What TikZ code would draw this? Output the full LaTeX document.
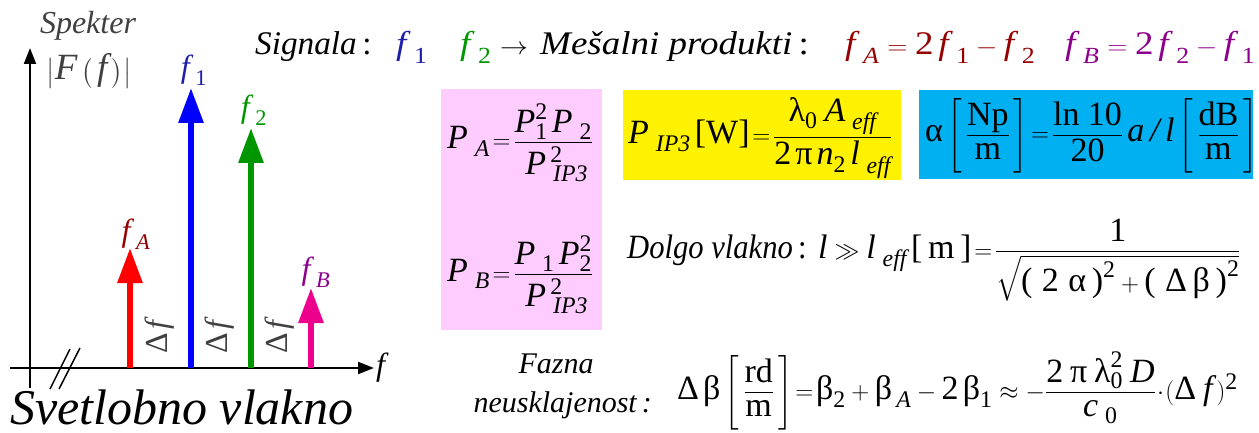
\documentclass[tikz,border=0pt]{standalone}
\usepackage{amsmath}
\usepackage{fontspec}
\setmainfont{Liberation Serif}
\usetikzlibrary{arrows.meta}
\newcommand\I[1]{\text{\itshape #1}}
\newcommand\R[1]{\text{\upshape #1}}
\definecolor{dred}{RGB}{150,0,0}
\definecolor{navy}{RGB}{30,30,170}
\definecolor{grn}{RGB}{0,150,0}
\definecolor{purp}{RGB}{140,0,140}
\definecolor{pinkbg}{RGB}{255,204,255}
\definecolor{cyanbg}{RGB}{0,176,240}
\definecolor{txtgray}{RGB}{64,64,64}
\begin{document}
\begin{tikzpicture}[x=1pt,y=-1pt,
  spk/.style={line width=6pt,-{Triangle[width=24pt,length=35pt]}},
  ax/.style={line width=2pt,-{Triangle[width=12pt,length=16pt]}},
  big/.style={font=\fontsize{34}{40}\selectfont, inner sep=0pt},
  lbl/.style={font=\fontsize{32}{38}\selectfont, inner sep=0pt},
  tl/.style={font=\fontsize{33}{38}\selectfont, inner sep=0pt, anchor=base west, xscale=1.12}]
\useasboundingbox (0,0) rectangle (1259,433);
% background boxes
\fill[pinkbg] (441,89) rectangle (602,330);
\fill[yellow] (623,90) rectangle (901,180);
\fill[cyanbg] (919,90) rectangle (1253,179);
% axes
\coordinate (o1) at (30,388);
\coordinate (yt) at (30,48);
\coordinate (x0) at (10,368);
\coordinate (xt) at (374,368);
\draw[ax] (o1) -- (yt);
\draw[ax] (x0) -- (xt);
\draw[line width=1.5pt] (50,389) -- (70,349) (59,389) -- (80,348);
\node[lbl, anchor=west] (fx) at (376,368) {$\I{f}$};
% spectral lines
\coordinate (ab) at (130,368); \coordinate (at) at (130,248);
\coordinate (b1) at (191,368); \coordinate (t1) at (191,88);
\coordinate (b2) at (251,368); \coordinate (t2) at (251,128);
\coordinate (bb) at (311,368); \coordinate (tb) at (311,288);
\draw[spk, red] (ab) -- (at);
\draw[spk, blue] (b1) -- (t1);
\draw[spk, grn] (b2) -- (t2);
\draw[spk, magenta] (bb) -- (tb);
\node[lbl, dred] (lA) at (136,234) {$\I{f}_{\;\I{A}}$};
\node[lbl, navy] (l1) at (194,70) {$\I{f}_{\;\R{1}}$};
\node[lbl, grn] (l2) at (254,110) {$\I{f}_{\;\R{2}}$};
\node[lbl, purp] (lB) at (316,272) {$\I{f}_{\;\I{B}}$};
\node[lbl, txtgray, rotate=90] (d1) at (160,337) {$\R{Δ}\,\I{f}$};
\node[lbl, txtgray, rotate=90] (d2) at (220,337) {$\R{Δ}\,\I{f}$};
\node[lbl, txtgray, rotate=90] (d3) at (280,337) {$\R{Δ}\,\I{f}$};
\node[font=\fontsize{32}{36}\selectfont\itshape, txtgray, inner sep=0pt, anchor=base] (spek) at (88,34) {Spekter};
\node[font=\fontsize{37}{42}\selectfont, txtgray, inner sep=0pt, anchor=base] (Ff) at (89,80) {$\bigl|\I{F}\,\bigl(\,\I{f}\,\bigr)\bigr|$};
\node[font=\fontsize{50}{56}\selectfont\itshape, inner sep=0pt, anchor=base west] (sv) at (10,424) {Svetlobno vlakno};
% top line pieces
\node[tl, xscale=0.9] (s1) at (255,55) {\I{Signala}\,:};
\node[tl, navy] (s2) at (396,55) {$\I{f}_{\;\R{1}}$};
\node[tl, grn] (s3) at (460,55) {$\I{f}_{\;\R{2}}$};
\node[tl] (s4) at (500,55) {$\rightarrow$};
\node[tl] (s5) at (540,55) {\I{Mešalni produkti}\,:};
\node[tl, dred] (s6) at (845,55) {$\I{f}_{\;\I{A}}=\R{2}\,\I{f}_{\;\R{1}}-\I{f}_{\;\R{2}}$};
\node[tl, purp] (s7) at (1065,55) {$\I{f}_{\;\I{B}}=\R{2}\,\I{f}_{\;\R{2}}-\I{f}_{\;\R{1}}$};
% formulas
\node[big, anchor=base west] (PA) at (447,149)
 {$\I{P}_{\;\I{A}}\!=\!\dfrac{\I{P}_{\R{1}}^{\R{2}}\,\I{P}_{\;\R{2}}}{\;\I{P}_{\;\I{IP3}}^{\,\R{2}}}$};
\node[big, anchor=base west] (PIP) at (628,144)
 {$\I{P}_{\;\I{IP3}}\,\R{[W]}\!=\!\dfrac{\R{λ}_{\R{0}}\;\I{A}_{\;\I{eff}}}{\R{2}\,\R{π}\,\I{n}_{\R{2}}\,\I{l}_{\;\I{eff}}}$};
\node[big, anchor=base west] (al) at (925,142)
 {$\R{α}\left[\,\dfrac{\R{Np}}{\R{m}}\,\right]\!=\!\dfrac{\R{ln 10}}{\R{20}}\,\I{a\,/\,l}\left[\,\dfrac{\R{dB}}{\R{m}}\,\right]$};
\node[big, anchor=base west] (PB) at (447,281)
 {$\I{P}_{\;\I{B}}\!=\!\dfrac{\I{P}_{\;\R{1}}\,\I{P}_{\R{2}}^{\R{2}}}{\;\I{P}_{\;\I{IP3}}^{\,\R{2}}}$};
\node[big, anchor=base west, xscale=0.9] (dv) at (627,258) {\I{Dolgo vlakno}\,:};
\node[big, anchor=base west] (dvf) at (818,258)
 {$\I{l}\gg\I{l}_{\;\I{eff}}\,\R{[\,m\,]}\!=\!\dfrac{\R{1}}{\sqrt{\R{(\;2\;α\,)}^{\R{2}}+\R{(\;Δ\,β\,)}^{\R{2}}}}$};
\node[font=\fontsize{30}{36}\selectfont\itshape, inner sep=0pt, anchor=base] (fz1) at (556,373) {Fazna};
\node[font=\fontsize{30}{36}\selectfont\itshape, inner sep=0pt, anchor=base east] (fz2) at (652,412) {neusklajenost\,:};
\node[big, anchor=base west] (db) at (677,399)
 {$\R{Δ}\,\R{β}\left[\,\dfrac{\R{rd}}{\R{m}}\,\right]\!=\!\R{β}_{\R{2}}+\R{β}_{\,\I{A}}-\R{2}\,\R{β}_{\R{1}}\approx-\dfrac{\R{2}\;\R{π}\;\R{λ}_{\R{0}}^{\R{2}}\;\I{D}}{\I{c}_{\;\R{0}}}\!\cdot\!(\R{Δ}\;\I{f}\,)^{\R{2}}$};
\end{tikzpicture}
\end{document}
